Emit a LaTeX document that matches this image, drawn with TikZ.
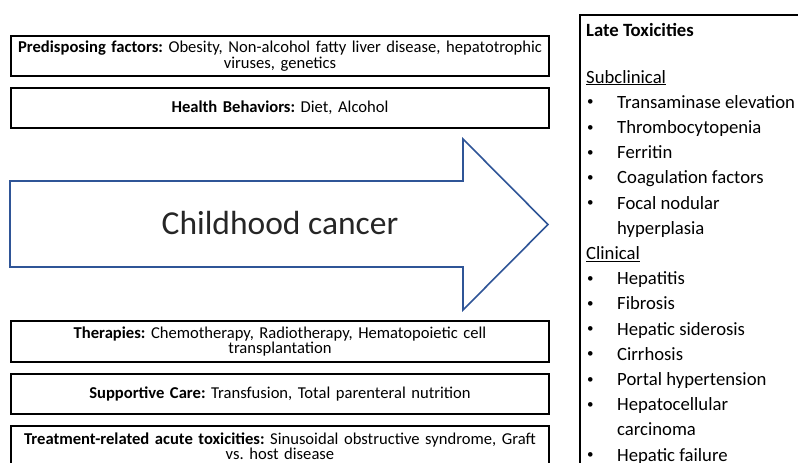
\documentclass[tikz,border=0pt]{standalone}
\usepackage{fontspec}
\setmainfont{Carlito}
\usetikzlibrary{positioning}
\definecolor{arrowblue}{HTML}{2F5597}
\tikzset{
	factor/.style={draw=black, line width=1.5pt, outer sep=0pt, inner sep=0pt, minimum width=538pt, minimum height=40pt, text width=536pt, align=center, font=\fontsize{16.6}{15.5}\selectfont\frenchspacing},
	listtext/.style={anchor=base west, inner sep=0pt, font=\fontsize{18.7}{22}\selectfont},
	dottext/.style={anchor=base west, inner sep=0pt, font=\fontsize{13}{13}\selectfont},
	bignarrow/.style={draw=arrowblue, line width=1.6pt, line join=miter},
}

\begin{document}
\begin{tikzpicture}[x=1pt, y=-1pt]
\useasboundingbox (0,0) rectangle (798,463);
\clip (0,0) rectangle (798,463);
% factors above the arrow
\node (predis) [factor] at (280,56) {\textbf{Predisposing factors:} Obesity, Non-alcohol fatty liver disease, hepatotrophic\\viruses, genetics};
\node (behav) [factor, below=12pt of predis] {\textbf{Health Behaviors:} Diet, Alcohol};
% the big arrow
\draw [bignarrow] (10,181) -- (463,181) -- (463,139) -- (548,224.5) -- (463,310) -- (463,267) -- (10,267) -- cycle;
\node (cancer) [inner sep=0pt, text=black!85, font=\fontsize{33.5}{36}\selectfont] at (280,223) {Childhood cancer};
% factors below the arrow
\node (thera) [factor, minimum height=41pt] at (280,341.5) {\textbf{Therapies:} Chemotherapy, Radiotherapy, Hematopoietic cell\\transplantation};
\node (care) [factor, below=12pt of thera] {\textbf{Supportive Care:} Transfusion, Total parenteral nutrition};
\node (acute) [factor, below=12pt of care] {\textbf{Treatment-related acute toxicities:} Sinusoidal obstructive syndrome, Graft\\vs. host disease};
% late toxicities
\node (late) [draw=black, line width=1.5pt, anchor=north west, minimum width=235pt, minimum height=470pt] at (579,14) {};
\node (title) [listtext] at (586,36.5) {\textbf{Late Toxicities}};
\foreach \k/\x/\t in {0/586/\underline{Subclinical}, 1/617/Transaminase elevation, 2/617/Thrombocytopenia,
	3/617/Ferritin, 4/617/Coagulation factors, 5/617/Focal nodular, 6/617/hyperplasia,
	7/586/\underline{Clinical}, 8/617/Hepatitis, 9/617/Fibrosis, 10/617/Hepatic siderosis,
	11/617/Cirrhosis, 12/617/Portal hypertension, 13/617/Hepatocellular, 14/617/carcinoma,
	15/617/Hepatic failure}
	\node (item\k) [listtext] at (\x,83.1+25.2*\k) {\t};
\foreach \k in {1,2,3,4,5,8,9,10,11,12,13,15}
	\node (dot\k) [dottext] at (587,80.6+25.2*\k) {\textbullet};
\end{tikzpicture}
\end{document}
